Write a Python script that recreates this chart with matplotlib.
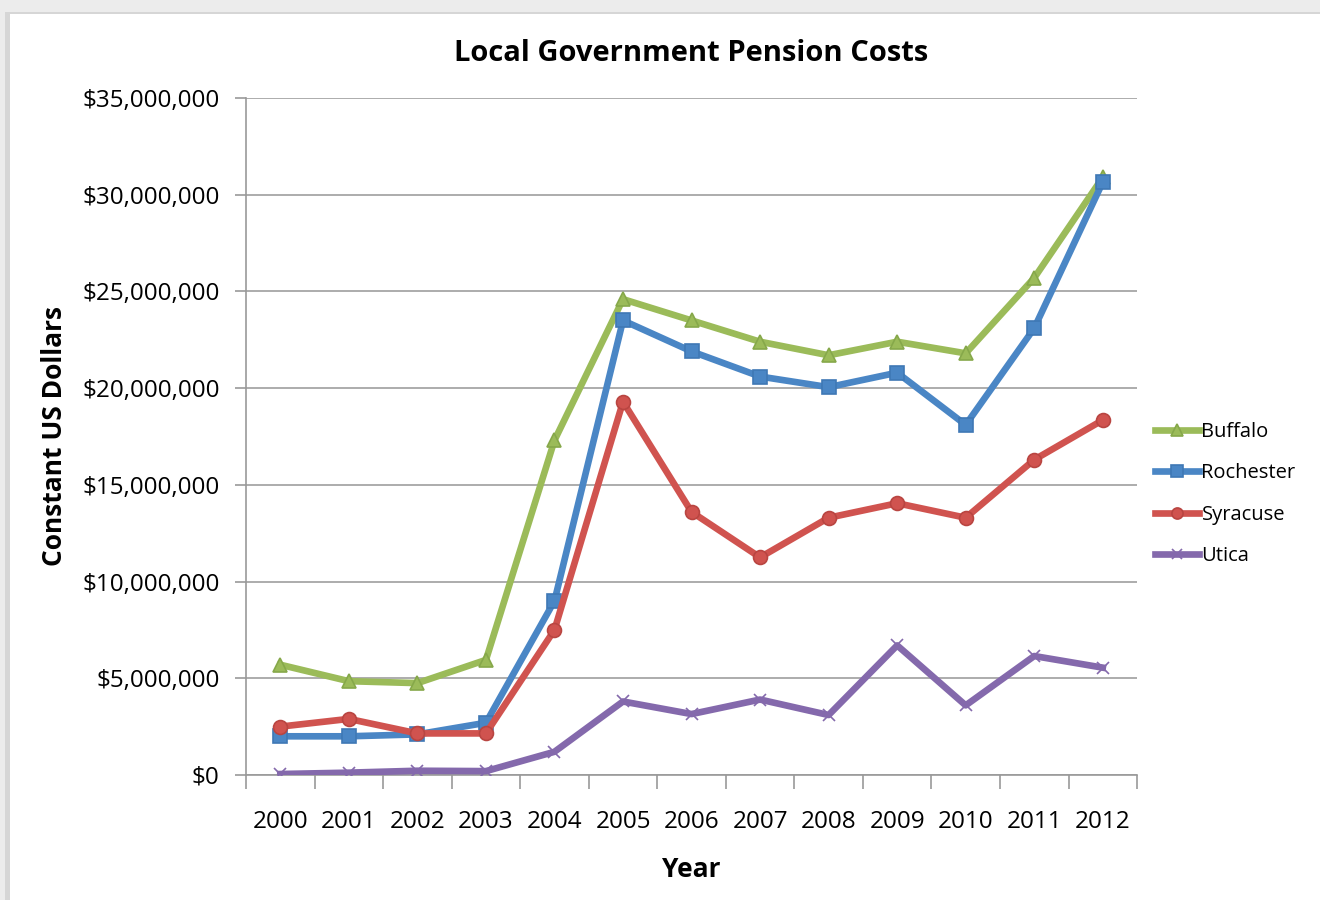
import matplotlib
matplotlib.use('Agg')
import matplotlib.pyplot as plt
from matplotlib.patches import Rectangle
from matplotlib.ticker import FuncFormatter

years = ['2000', '2001', '2002', '2003', '2004', '2005', '2006',
         '2007', '2008', '2009', '2010', '2011', '2012']

# pension costs, millions of constant US dollars
buffalo = [5.7, 4.85, 4.75, 5.95, 17.3, 24.6, 23.5, 22.4, 21.7, 22.4, 21.8, 25.7, 30.9]
rochester = [2.0, 2.0, 2.1, 2.7, 9.0, 23.5, 21.9, 20.6, 20.05, 20.8, 18.1, 23.1, 30.65]
syracuse = [2.5, 2.9, 2.15, 2.15, 7.5, 19.3, 13.6, 11.25, 13.3, 14.05, 13.3, 16.3, 18.35]
utica = [0.05, 0.12, 0.22, 0.2, 1.2, 3.8, 3.15, 3.9, 3.1, 6.7, 3.6, 6.15, 5.55]

plt.rcParams['font.family'] = ['Open Sans', 'DejaVu Sans']

fig = plt.figure(figsize=(13.2, 9), dpi=100)
fig.patch.set_facecolor('#ececec')

# white chart panel with a soft shadow
fig.patches.append(Rectangle((0.004, 0.0), 1.0, 0.987, transform=fig.transFigure,
                             facecolor='#d6d6d6', edgecolor='none', zorder=-3))
fig.patches.append(Rectangle((0.0075, 0.0), 1.0, 0.985, transform=fig.transFigure,
                             facecolor='white', edgecolor='none', zorder=-2))

ax = fig.add_axes([0.1864, 0.1389, 0.675, 0.7522])

x = list(range(len(years)))
series = [
    ('Buffalo', [v * 1e6 for v in buffalo], '#9BBB59', '^', '#86a84a'),
    ('Rochester', [v * 1e6 for v in rochester], '#4A86C5', 's', '#3f78b5'),
    ('Syracuse', [v * 1e6 for v in syracuse], '#D0534F', 'o', '#b94541'),
    ('Utica', [v * 1e6 for v in utica], '#8469AC', 'x', '#8469AC'),
]

for name, vals, color, marker, edge in series:
    ax.plot(x, vals, color=color, linewidth=4.8, marker=marker,
            markersize=10 if marker != 'x' else 9, markerfacecolor=color,
            markeredgecolor=edge, markeredgewidth=1.2, label=name,
            solid_joinstyle='round', zorder=3)

ax.set_xlim(-0.5, 12.5)
ax.set_ylim(0, 35e6)
ax.set_yticks([i * 5e6 for i in range(8)])
ax.yaxis.set_major_formatter(FuncFormatter(lambda v, p: f'${v:,.0f}'))

# category labels sit between boundary tick marks
ax.set_xticks([i - 0.5 for i in range(len(years) + 1)], minor=False)
ax.set_xticklabels([])
ax.set_xticks(x, minor=True)
ax.set_xticklabels(years, minor=True)
ax.tick_params(axis='x', which='major', length=10, color='#999999', width=1.2)
ax.tick_params(axis='x', which='minor', length=0, pad=25, labelsize=17.5)
ax.tick_params(axis='y', length=8, color='#999999', width=1.2, labelsize=17.5, pad=11)

ax.grid(axis='y', color='#a6a6a6', linewidth=1.3)
ax.set_axisbelow(True)
for side in ['top', 'right']:
    ax.spines[side].set_visible(False)
for side in ['left', 'bottom']:
    ax.spines[side].set_color('#999999')
    ax.spines[side].set_linewidth(1.2)

ax.set_title('Local Government Pension Costs', fontsize=21, fontweight='bold', pad=27)
ax.set_xlabel('Year', fontsize=19, fontweight='bold', labelpad=16)
ax.set_ylabel('Constant US Dollars', fontsize=19, fontweight='bold', labelpad=10)

ax.legend(loc='center left', bbox_to_anchor=(1.0, 0.415), frameon=False,
          fontsize=14.5, handlelength=2.2, handletextpad=0.1, labelspacing=1.05,
          markerscale=0.8)

fig.savefig('out.png', dpi=100, facecolor=fig.get_facecolor())
